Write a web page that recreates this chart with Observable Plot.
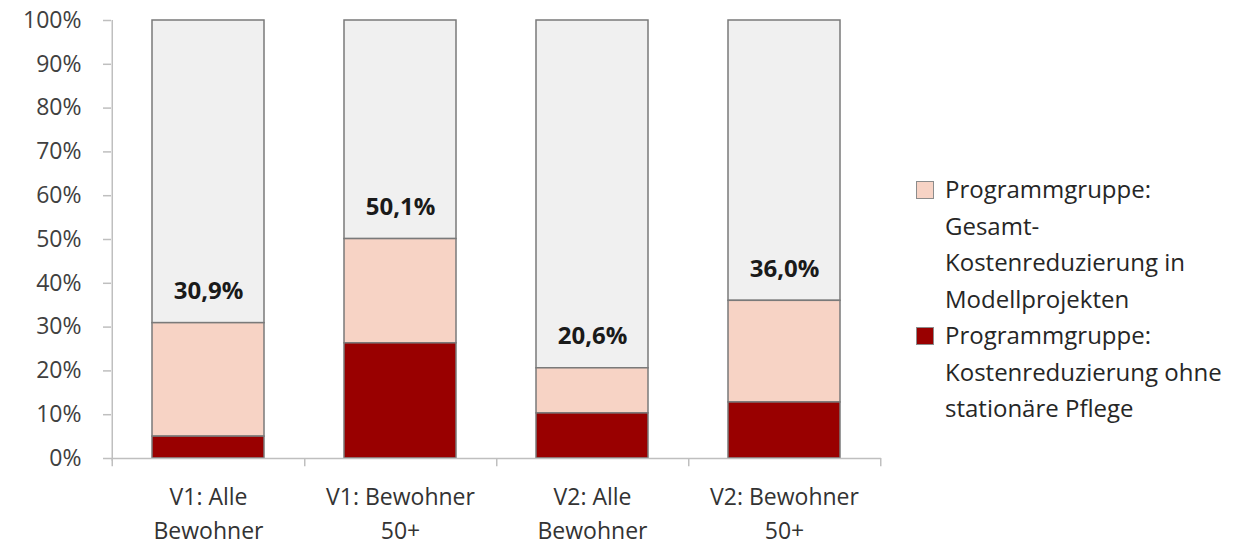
<!DOCTYPE html>
<html>
<head>
<meta charset="utf-8">
<script src="https://cdn.jsdelivr.net/npm/d3@7"></script>
<script src="https://cdn.jsdelivr.net/npm/@observablehq/plot@0.6"></script>
<style>
  html, body { margin: 0; padding: 0; background: #fff; }
  #wrap { position: relative; width: 1259px; height: 548px; font-family: "Open Sans", Lato, sans-serif; }
  #chart { position: absolute; left: 0; top: 0; }
  #legend { position: absolute; left: 916px; top: 171px; color: #262626; font-size: 24px; line-height: 36.5px; white-space: nowrap; }
  .item { position: relative; padding-left: 29px; }
  .sw { position: absolute; left: 0; top: 10px; width: 16px; height: 16px; border: 1px solid #8c8c8c; }
</style>
</head>
<body>
<div id="wrap">
  <div id="chart"></div>
  <div id="legend"></div>
</div>
<script>
// Categories (two-line labels) and the stacked shares in percent
const categories = ["V1: Alle\nBewohner", "V1: Bewohner\n50+", "V2: Alle\nBewohner", "V2: Bewohner\n50+"];
const ohneStationaer = [5.0, 26.3, 10.3, 12.8];   // Kostenreduzierung ohne stationäre Pflege
const gesamt = [30.9, 50.1, 20.6, 36.0];          // Gesamt-Kostenreduzierung in Modellprojekten
const yTicks = [0, 10, 20, 30, 40, 50, 60, 70, 80, 90, 100];

const seriesNames = [
  ["Programmgruppe:", "Gesamt-", "Kostenreduzierung in", "Modellprojekten"],
  ["Programmgruppe:", "Kostenreduzierung ohne", "stationäre Pflege"]
];
const colors = {dark: "#990000", pink: "#f7d3c5", rest: "#f0f0f0", edge: "#7a7a7a", axis: "#bfbfbf"};

const rows = categories.map((c, i) => ({cat: c, low: ohneStationaer[i], total: gesamt[i]}));
const fmt = v => v.toFixed(1).replace(".", ",") + "%";
const half = 96.25; // half a band step, in pixels

const plot = Plot.plot({
  width: 900,
  height: 548,
  marginLeft: 111,
  marginRight: 19,
  marginTop: 20,
  marginBottom: 90,
  style: {fontFamily: "'Open Sans', Lato, sans-serif", color: "#404040", background: "transparent", overflow: "visible"},
  x: {domain: categories, paddingInner: 0.418, paddingOuter: 0.209, axis: null},
  y: {domain: [0, 100], axis: null},
  marks: [
    // remainder up to 100 %
    Plot.barY(rows, {x: "cat", y1: "total", y2: 100, fill: colors.rest, stroke: colors.edge, strokeWidth: 1.5}),
    // total reduction
    Plot.barY(rows, {x: "cat", y1: "low", y2: "total", fill: colors.pink, stroke: colors.edge, strokeWidth: 1.5}),
    // reduction without inpatient care
    Plot.barY(rows, {x: "cat", y1: 0, y2: "low", fill: colors.dark, stroke: colors.edge, strokeWidth: 1.5}),
    // value labels above the total segment
    Plot.text(rows, {x: "cat", y: "total", text: d => fmt(d.total), dy: -32, fontSize: 24, fontWeight: "bold", fill: "#1a1a1a"}),
    // y axis line and ticks
    Plot.ruleX([categories[0]], {dx: -half, y1: -0.6, y2: 100, stroke: colors.axis, strokeWidth: 1.5}),
    Plot.axisY({ticks: yTicks, tickFormat: d => d + "%", tickSize: 8, tickPadding: 22, fontSize: 23, stroke: colors.axis, strokeWidth: 1.5, fill: "#404040", label: null}),
    // x axis baseline and band separators
    Plot.ruleY([0], {stroke: colors.axis, strokeWidth: 1.5}),
    Plot.ruleX([categories[0]], {dx: -half, y1: 0, y2: -1.9, stroke: colors.axis, strokeWidth: 1.5}),
    Plot.ruleX(categories, {dx: half, y1: 0, y2: -1.9, stroke: colors.axis, strokeWidth: 1.5}),
    Plot.axisX({tickSize: 0, tickPadding: 22, fontSize: 23, lineHeight: 1.5, fill: "#333", label: null})
  ]
});
document.getElementById("chart").appendChild(plot);

// Legend
const legend = document.getElementById("legend");
[colors.pink, colors.dark].forEach((c, i) => {
  const item = document.createElement("div");
  item.className = "item";
  item.innerHTML = `<span class="sw" style="background:${c}"></span>` + seriesNames[i].map(s => `<div>${s}</div>`).join("");
  legend.appendChild(item);
});
</script>
</body>
</html>
